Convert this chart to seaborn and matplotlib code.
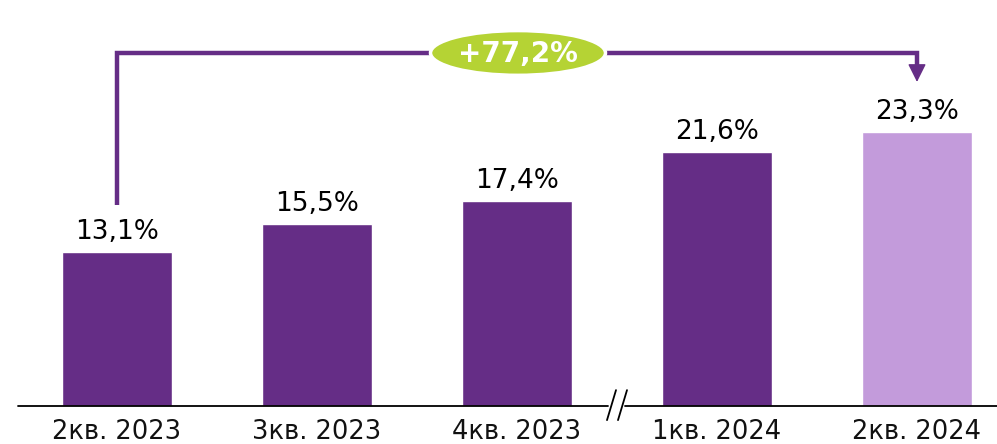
import numpy as np
import matplotlib.pyplot as plt
import pandas as pd
import seaborn as sns
from matplotlib.patches import Ellipse

# Chart data
quarters = ['2кв. 2023', '3кв. 2023', '4кв. 2023', '1кв. 2024', '2кв. 2024']
shares = [13.1, 15.5, 17.4, 21.6, 23.3]
value_labels = ['13,1%', '15,5%', '17,4%', '21,6%', '23,3%']
bar_colors = ['#652d86', '#652d86', '#652d86', '#652d86', '#c39bdb']
growth_label = '+77,2%'

DARK = '#652d86'
GREEN = '#b5d334'


def plot_share(fig_location='out.png'):
    sns.set_style('white')
    plt.rcParams['font.family'] = ['DejaVu Sans']

    fig = plt.figure(figsize=(9.97, 4.44), dpi=100)
    ax = fig.add_axes([18 / 997, 38 / 444, 979 / 997, 406 / 444])

    df = pd.DataFrame({'quarter': quarters, 'share': shares})
    sns.barplot(ax=ax, data=df, x='quarter', y='share', hue='quarter',
                palette=bar_colors, legend=False, width=0.55, saturation=1)

    ax.set_xlim(-0.495, 4.4)
    ax.set_ylim(0, 34.5)
    ax.set_xlabel('')
    ax.set_ylabel('')
    ax.set_yticks([])
    ax.tick_params(axis='x', length=0, pad=9, labelsize=18.5, labelcolor='#111111')
    for side in ['top', 'right', 'left', 'bottom']:
        ax.spines[side].set_visible(False)

    # Value labels above bars
    for i, (v, lab) in enumerate(zip(shares, value_labels)):
        ax.text(i, v + 0.6, lab, ha='center', va='bottom', fontsize=19, color='black')

    # Baseline with break mark
    ax.plot([-0.495, 2.455], [0, 0], color='black', lw=1.3, clip_on=False)
    ax.plot([2.54, 4.4], [0, 0], color='black', lw=1.3, clip_on=False)
    for x0 in [2.45, 2.505]:
        ax.plot([x0, x0 + 0.045], [-1.2, 1.35], color='black', lw=1.3, clip_on=False)

    # Growth arrow between first and last quarter
    y_top = 30.0
    ax.plot([0, 0, 4, 4], [17.1, y_top, y_top, 28.6], color=DARK, lw=3.2,
            solid_joinstyle='miter', solid_capstyle='butt')
    ax.annotate('', xy=(4, 27.3), xytext=(4, 28.9),
                arrowprops=dict(arrowstyle='-|>', color=DARK, lw=1, mutation_scale=28))

    ell = Ellipse((2.005, y_top), width=0.875, height=3.8, facecolor=GREEN,
                  edgecolor='white', lw=2.5, zorder=5)
    ax.add_patch(ell)
    ax.text(2.005, y_top - 0.1, growth_label, ha='center', va='center', fontsize=20,
            fontweight='bold', color='white', zorder=6)

    fig.savefig(fig_location, dpi=100)


if __name__ == '__main__':
    plot_share('out.png')
